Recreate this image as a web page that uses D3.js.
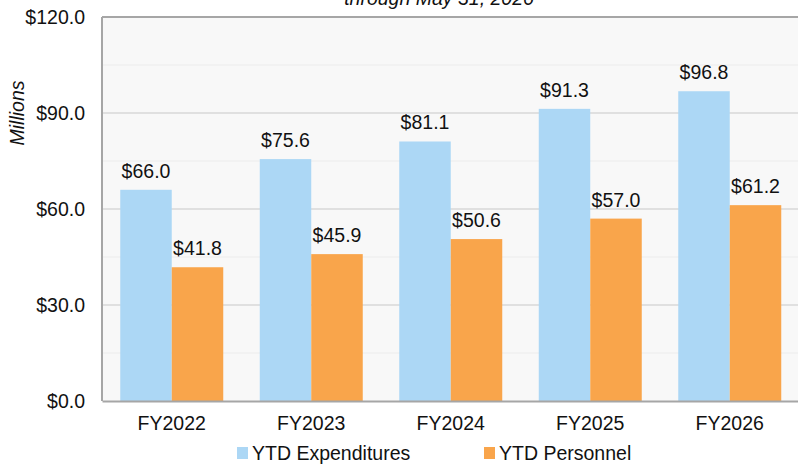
<!DOCTYPE html>
<html>
<head>
<meta charset="utf-8">
<script src="https://cdn.jsdelivr.net/npm/d3@7"></script>
<style>
html,body{margin:0;padding:0;background:#fff;}
svg{display:block;font-family:"Liberation Sans",Arial,sans-serif;}
</style>
</head>
<body>
<svg id="chart" width="798" height="464"></svg>
<script>
const categories = ["FY2022","FY2023","FY2024","FY2025","FY2026"];
const seriesNames = ["YTD Expenditures","YTD Personnel"];
const expenditures = [66.0, 75.6, 81.1, 91.3, 96.8];
const personnel = [41.8, 45.9, 50.6, 57.0, 61.2];
const majorTicks = [0, 30, 60, 90, 120];
const minorTicks = [15, 45, 75, 105];
const subtitle = "through May 31, 2026";
const yTitle = "Millions";

const colors = ["#acd7f5", "#f9a54b"];
const FS = 19.5;
const svg = d3.select("#chart");
const L = 102, R = 799.5, T = 17, B = 401;

const y = d3.scaleLinear().domain([0,120]).range([B, T]);
const x = d3.scaleBand().domain(categories).range([L, R]).paddingInner(0.2616).paddingOuter(0.1308);
const xs = d3.scaleBand().domain(seriesNames).range([0, x.bandwidth()]);

// plot background
svg.append("rect").attr("x", L).attr("y", T).attr("width", R - L).attr("height", B - T).attr("fill", "#f8f8f8");

// gridlines
svg.append("g").selectAll("line").data(minorTicks).join("line")
  .attr("x1", L).attr("x2", R).attr("y1", d => y(d)).attr("y2", d => y(d))
  .attr("stroke", "#ececec").attr("stroke-width", 1);
svg.append("g").selectAll("line").data(majorTicks.filter(d => d > 0 && d < 120)).join("line")
  .attr("x1", L).attr("x2", R).attr("y1", d => y(d)).attr("y2", d => y(d))
  .attr("stroke", "#d9d9d9").attr("stroke-width", 1.5);

// bars
const data = categories.map((c, i) => ({cat: c, vals: [expenditures[i], personnel[i]]}));
const groups = svg.append("g").selectAll("g").data(data).join("g")
  .attr("transform", d => `translate(${x(d.cat)},0)`);
groups.selectAll("rect").data(d => d.vals.map((v, j) => ({name: seriesNames[j], v, j}))).join("rect")
  .attr("x", d => xs(d.name)).attr("width", xs.bandwidth())
  .attr("y", d => y(d.v)).attr("height", d => y(0) - y(d.v))
  .attr("fill", d => colors[d.j]);
groups.selectAll("text").data(d => d.vals.map((v, j) => ({name: seriesNames[j], v, j}))).join("text")
  .attr("x", d => xs(d.name) + xs.bandwidth() / 2).attr("y", d => y(d.v) - 12)
  .attr("text-anchor", "middle").attr("font-size", FS).attr("fill", "#111")
  .text(d => "$" + d.v.toFixed(1));

// borders
svg.append("line").attr("x1", L).attr("x2", R).attr("y1", T).attr("y2", T).attr("stroke", "#a6a6a6").attr("stroke-width", 2);
svg.append("line").attr("x1", L).attr("x2", L).attr("y1", T).attr("y2", B).attr("stroke", "#a6a6a6").attr("stroke-width", 2);

// y axis
const yAxis = svg.append("g").attr("transform", `translate(${L},0)`)
  .call(d3.axisLeft(y).tickValues(majorTicks).tickSize(0).tickPadding(17).tickFormat(d => "$" + d.toFixed(1)));
yAxis.select(".domain").remove();
yAxis.selectAll("text").attr("font-size", FS).attr("fill", "#111").attr("font-family", "Liberation Sans, Arial, sans-serif");

// x axis
const xAxis = svg.append("g").attr("transform", `translate(0,${B})`)
  .call(d3.axisBottom(x).tickSize(0).tickPadding(15));
xAxis.select(".domain").attr("stroke", "#a6a6a6").attr("stroke-width", 2);
xAxis.selectAll("text").attr("font-size", FS).attr("fill", "#111").attr("font-family", "Liberation Sans, Arial, sans-serif");

// subtitle (cut off at top, as in the reference)
svg.append("text").attr("x", 439).attr("y", 5).attr("text-anchor", "middle")
  .attr("font-size", FS).attr("font-style", "italic").attr("fill", "#111").text(subtitle);

// y title
svg.append("text").attr("transform", "translate(24,113) rotate(-90)").attr("text-anchor", "middle")
  .attr("font-size", FS).attr("font-style", "italic").attr("fill", "#111").text(yTitle);

// legend
const legendX = [237, 484];
const lg = svg.append("g").selectAll("g").data(seriesNames).join("g")
  .attr("transform", (d, i) => `translate(${legendX[i]},447)`);
lg.append("rect").attr("width", 11).attr("height", 12).attr("fill", (d, i) => colors[i]);
lg.append("text").attr("x", 15).attr("y", 13).attr("font-size", FS).attr("fill", "#111").text(d => d);
</script>
</body>
</html>
